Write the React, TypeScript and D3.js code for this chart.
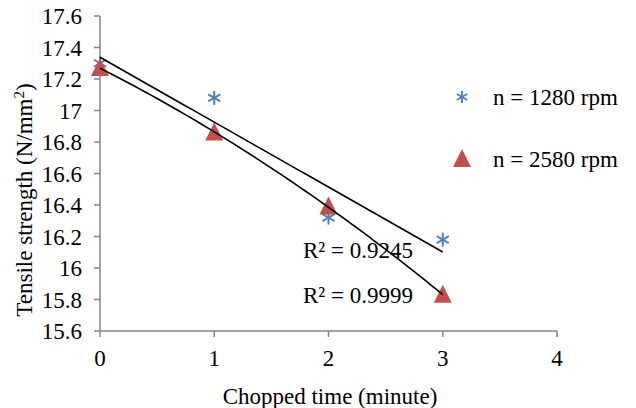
import React from "react";
import * as d3 from "d3";

const W = 636;
const H = 408;

const times = [0, 1, 2, 3];
const series1280 = [17.3, 17.08, 16.32, 16.18];
const series2580 = [17.27, 16.86, 16.39, 15.83];
const yTicks = [15.6, 15.8, 16, 16.2, 16.4, 16.6, 16.8, 17, 17.2, 17.4, 17.6];
const xTicks = [0, 1, 2, 3, 4];
const r2Labels = ["R² = 0.9245", "R² = 0.9999"];
const legendLabels = ["n = 1280 rpm", "n = 2580 rpm"];

const BLUE = "#4F81BD";
const RED = "#C0504D";
const AXIS = "#868686";
const FONT = "Liberation Serif";

function linearFit(xs: number[], ys: number[]) {
  const n = xs.length;
  const mx = d3.mean(xs)!;
  const my = d3.mean(ys)!;
  let sxy = 0, sxx = 0;
  for (let i = 0; i < n; i++) {
    sxy += (xs[i] - mx) * (ys[i] - my);
    sxx += (xs[i] - mx) ** 2;
  }
  const b = sxy / sxx;
  const a = my - b * mx;
  return (x: number) => a + b * x;
}

function quadFit(xs: number[], ys: number[]) {
  const S = (p: number) => d3.sum(xs, (x) => x ** p);
  const T = (p: number) => d3.sum(xs.map((x, i) => ys[i] * x ** p));
  const M = [
    [S(0), S(1), S(2), T(0)],
    [S(1), S(2), S(3), T(1)],
    [S(2), S(3), S(4), T(2)],
  ];
  for (let i = 0; i < 3; i++) {
    for (let k = i + 1; k < 3; k++) {
      const f = M[k][i] / M[i][i];
      for (let j = i; j < 4; j++) M[k][j] -= f * M[i][j];
    }
  }
  const c = [0, 0, 0];
  for (let i = 2; i >= 0; i--) {
    let s = M[i][3];
    for (let j = i + 1; j < 3; j++) s -= M[i][j] * c[j];
    c[i] = s / M[i][i];
  }
  return (x: number) => c[0] + c[1] * x + c[2] * x * x;
}

function Star({ cx, cy, r, color }: { cx: number; cy: number; r: number; color: string }) {
  const d = r * Math.cos(Math.PI / 6);
  const e = r * Math.sin(Math.PI / 6);
  return (
    <g stroke={color} strokeWidth={2}>
      <line x1={cx} y1={cy - r} x2={cx} y2={cy + r} />
      <line x1={cx - d} y1={cy - e} x2={cx + d} y2={cy + e} />
      <line x1={cx - d} y1={cy + e} x2={cx + d} y2={cy - e} />
    </g>
  );
}

function Tri({ cx, cy, color }: { cx: number; cy: number; color: string }) {
  const hw = 9;
  const h = 16;
  return (
    <path
      d={`M${cx},${cy - h / 2 - 2} L${cx + hw},${cy + h / 2} L${cx - hw},${cy + h / 2} Z`}
      fill={color}
    />
  );
}

function T(props: any) {
  const { children, ...rest } = props;
  return (
    <text fontFamily={FONT} fill="#000" style={{ fontFamily: FONT }} {...rest}>
      {children}
    </text>
  );
}

export default function App() {
  const x = d3.scaleLinear().domain([0, 4]).range([100, 557]);
  const y = d3.scaleLinear().domain([15.6, 17.6]).range([331, 16]);

  const f1 = linearFit(times, series1280);
  const f2 = quadFit(times, series2580);
  const samples = d3.range(0, 3.0001, 0.05);
  const path1 = d3.line<number>().x((t) => x(t)).y((t) => y(f1(t)))(samples)!;
  const path2 = d3.line<number>().x((t) => x(t)).y((t) => y(f2(t)))(samples)!;

  const fs = 23;

  return (
    <svg width={W} height={H} style={{ position: "absolute", left: 0, top: 0, display: "block" }}>
      <style>{`text, tspan { font-family: "Liberation Serif", "Times New Roman", serif; }`}</style>
      <rect width={W} height={H} fill="#fff" />
      <line x1={x(0)} y1={y(15.6)} x2={x(0)} y2={y(17.6)} stroke={AXIS} strokeWidth={1.5} />
      <line x1={x(0)} y1={y(15.6)} x2={x(4)} y2={y(15.6)} stroke={AXIS} strokeWidth={1.5} />
      {yTicks.map((t) => (
        <g key={"y" + t}>
          <line x1={x(0) - 6} x2={x(0)} y1={y(t)} y2={y(t)} stroke={AXIS} strokeWidth={1.5} />
          <T x={82} y={y(t)} dy="0.35em" textAnchor="end" fontSize={fs}>
            {String(t)}
          </T>
        </g>
      ))}
      {xTicks.map((t) => (
        <g key={"x" + t}>
          <line x1={x(t)} x2={x(t)} y1={y(15.6)} y2={y(15.6) + 6} stroke={AXIS} strokeWidth={1.5} />
          <T x={x(t)} y={358} dy="0.35em" textAnchor="middle" fontSize={fs}>
            {String(t)}
          </T>
        </g>
      ))}
      <T x={330} y={396} dy="0.35em" textAnchor="middle" fontSize={fs}>
        Chopped time (minute)
      </T>
      <T transform={`translate(24,200) rotate(-90)`} dy="0.35em" textAnchor="middle" fontSize={fs}>
        Tensile strength (N/mm<tspan baselineShift="super" fontSize={fs * 0.65}>2</tspan>)
      </T>
      {times.map((t, i) => (
        <Star key={"s" + i} cx={x(t)} cy={y(series1280[i])} r={7} color={BLUE} />
      ))}
      {times.map((t, i) => (
        <Tri key={"t" + i} cx={x(t)} cy={y(series2580[i])} color={RED} />
      ))}
      <path d={path1} fill="none" stroke="#000" strokeWidth={1.6} />
      <path d={path2} fill="none" stroke="#000" strokeWidth={1.6} />
      <T x={303} y={250} dy="0.35em" fontSize={fs}>{r2Labels[0]}</T>
      <T x={303} y={295} dy="0.35em" fontSize={fs}>{r2Labels[1]}</T>
      <Star cx={462} cy={97} r={6} color={BLUE} />
      <T x={493} y={97} dy="0.35em" fontSize={fs}>{legendLabels[0]}</T>
      <Tri cx={462} cy={159} color={RED} />
      <T x={493} y={159} dy="0.35em" fontSize={fs}>{legendLabels[1]}</T>
    </svg>
  );
}
